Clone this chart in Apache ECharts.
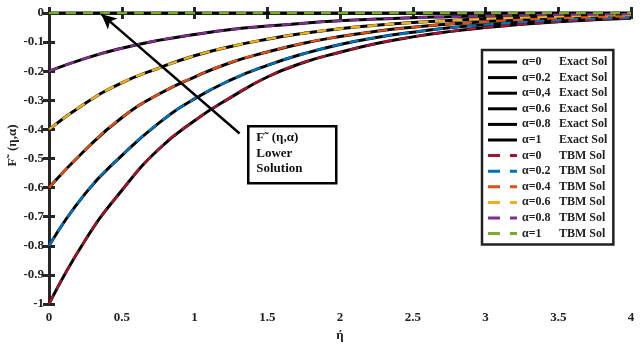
<!DOCTYPE html>
<html>
<head>
<meta charset="utf-8">
<script src="https://cdn.jsdelivr.net/npm/echarts@6/dist/echarts.min.js"></script>
<style>
  html, body { margin: 0; padding: 0; background: #fff; }
  #chart { width: 644px; height: 345px; }
</style>
</head>
<body>
<div id="chart"></div>
<script>
// eta grid
const eta = [0, 0.25, 0.5, 0.75, 1, 1.25, 1.5, 1.75, 2, 2.25, 2.5, 2.75, 3, 3.25, 3.5, 3.75, 4];

// F(eta, alpha)
const fA0  = [-1, -0.78, -0.61, -0.47, -0.37, -0.29, -0.22, -0.17, -0.135, -0.105, -0.082, -0.064, -0.05, -0.039, -0.03, -0.023, -0.018];
const fA02 = [-0.8, -0.62, -0.49, -0.38, -0.295, -0.23, -0.18, -0.14, -0.108, -0.084, -0.066, -0.051, -0.04, -0.031, -0.024, -0.019, -0.015];
const fA04 = [-0.6, -0.47, -0.36, -0.28, -0.22, -0.17, -0.134, -0.104, -0.081, -0.063, -0.049, -0.038, -0.03, -0.023, -0.018, -0.014, -0.011];
const fA06 = [-0.4, -0.31, -0.24, -0.19, -0.147, -0.115, -0.09, -0.07, -0.054, -0.042, -0.033, -0.026, -0.02, -0.016, -0.012, -0.009, -0.007];
const fA08 = [-0.2, -0.156, -0.121, -0.094, -0.074, -0.057, -0.045, -0.035, -0.027, -0.021, -0.016, -0.013, -0.01, -0.008, -0.006, -0.005, -0.004];
const fA1  = [0, 0, 0, 0, 0, 0, 0, 0, 0, 0, 0, 0, 0, 0, 0, 0, 0];

const curves = [fA0, fA02, fA04, fA06, fA08, fA1];
const exactNames = ['α=0|Exact Sol', 'α=0.2|Exact Sol', 'α=0,4|Exact Sol', 'α=0.6|Exact Sol', 'α=0.8|Exact Sol', 'α=1|Exact Sol'];
const tbmNames = ['α=0|TBM Sol', 'α=0.2|TBM Sol', 'α=0.4|TBM Sol', 'α=0.6|TBM Sol', 'α=0.8|TBM Sol', 'α=1|TBM Sol'];
const tbmColors = ['#A2142F', '#0072BD', '#D95319', '#EDB120', '#7E2F8E', '#77AC30'];

const font = 'Liberation Serif';
const axisColor = '#262626';
const solidIcon = 'path://M0,0H29V3H0Z';
const dashIcon = 'path://M0,0H12V3H0Z M22,0H29V3H22Z';

function pts(arr) {
  return eta.map((x, i) => [x, arr[i]]);
}

const series = [];
curves.forEach((c, i) => {
  series.push({
    name: exactNames[i],
    type: 'line',
    data: pts(c),
    smooth: true,
    symbol: 'none',
    clip: false,
    lineStyle: { color: '#000', width: 3 },
    itemStyle: { color: '#000' },
    z: 3
  });
});
curves.forEach((c, i) => {
  series.push({
    name: tbmNames[i],
    type: 'line',
    data: pts(c),
    smooth: true,
    symbol: 'none',
    clip: false,
    lineStyle: { color: tbmColors[i], width: 2.4, type: [10, 7] },
    itemStyle: { color: tbmColors[i] },
    z: 4
  });
});
// annotation arrow
series.push({
  name: 'arrow',
  type: 'line',
  data: [],
  z: 5,
  markLine: {
    silent: true,
    symbol: ['arrow', 'none'],
    symbolSize: [11, 15],
    label: { show: false },
    lineStyle: { color: '#000', width: 2.5, type: 'solid' },
    data: [[{ coord: [0.36, -0.004] }, { coord: [1.31, -0.414] }]]
  }
});

const legendData = exactNames.map(n => ({ name: n, icon: solidIcon }))
  .concat(tbmNames.map(n => ({ name: n, icon: dashIcon })));

const chart = echarts.init(document.getElementById('chart'));
chart.setOption({
  animation: false,
  grid: { left: 49, right: 13, top: 13, bottom: 41, outerBoundsMode: 'none' },
  xAxis: [{
    type: 'value', min: 0, max: 4, interval: 0.5,
    name: 'ή', nameLocation: 'middle', nameGap: 25, nameMoveOverlap: false,
    nameTextStyle: { fontFamily: font, fontWeight: 'bold', fontSize: 13, color: '#222' },
    axisLine: { show: true, lineStyle: { color: axisColor, width: 3 } },
    axisTick: { show: true, inside: true, length: 6, lineStyle: { color: axisColor, width: 3 } },
    axisLabel: { fontFamily: font, fontWeight: 'bold', fontSize: 13, color: '#222', margin: 7 },
    splitLine: { show: false }
  }, {
    type: 'value', min: 0, max: 4, interval: 0.5, position: 'top',
    axisLine: { show: true, lineStyle: { color: axisColor, width: 3 } },
    axisTick: { show: true, inside: true, length: 6, lineStyle: { color: axisColor, width: 3 } },
    axisLabel: { show: false },
    splitLine: { show: false }
  }],
  yAxis: [{
    type: 'value', min: -1, max: 0, interval: 0.1,
    name: 'F˜ (η,α)', nameLocation: 'middle', nameGap: 30, nameRotate: 90, nameMoveOverlap: false,
    nameTextStyle: { fontFamily: font, fontWeight: 'bold', fontSize: 13, color: '#222', padding: [0, 0, 0, 26] },
    axisLine: { show: true, lineStyle: { color: axisColor, width: 3 } },
    axisTick: { show: true, inside: true, length: 6, lineStyle: { color: axisColor, width: 3 } },
    axisLabel: {
      fontFamily: font, fontWeight: 'bold', fontSize: 13, color: '#222', margin: 5,
      formatter: v => String(Math.round(v * 10) / 10)
    },
    splitLine: { show: false }
  }, {
    type: 'value', min: -1, max: 0, interval: 0.1, position: 'right',
    axisLine: { show: true, lineStyle: { color: axisColor, width: 3 } },
    axisTick: { show: true, inside: true, length: 6, lineStyle: { color: axisColor, width: 3 } },
    axisLabel: { show: false },
    splitLine: { show: false }
  }],
  legend: {
    data: legendData,
    orient: 'vertical',
    left: 482, top: 50,
    padding: [6, 6, 5, 6],
    itemGap: 3.6,
    itemWidth: 29, itemHeight: 3,
    borderColor: '#222', borderWidth: 2.5,
    backgroundColor: '#fff',
    formatter: name => {
      const p = name.split('|');
      return '{a|' + p[0] + '}{b|' + p[1] + '}';
    },
    textStyle: {
      fontFamily: font, fontWeight: 'bold', fontSize: 12, color: '#222',
      rich: {
        a: { width: 37, fontFamily: font, fontWeight: 'bold', fontSize: 12 },
        b: { width: 52, fontFamily: font, fontWeight: 'bold', fontSize: 12 }
      }
    }
  },
  graphic: [{
    type: 'group', left: 247, top: 125,
    children: [{
      type: 'rect', shape: { x: 0, y: 0, width: 88, height: 57 },
      style: { fill: '#fff', stroke: '#000', lineWidth: 2.5 }
    }, {
      type: 'text', x: 8, y: 4,
      style: {
        text: 'F˜ (η,α)\nLower\nSolution',
        fontFamily: font, fontWeight: 'bold', fontSize: 13, lineHeight: 15.5, fill: '#111'
      }
    }]
  }],
  series: series
});
</script>
</body>
</html>
